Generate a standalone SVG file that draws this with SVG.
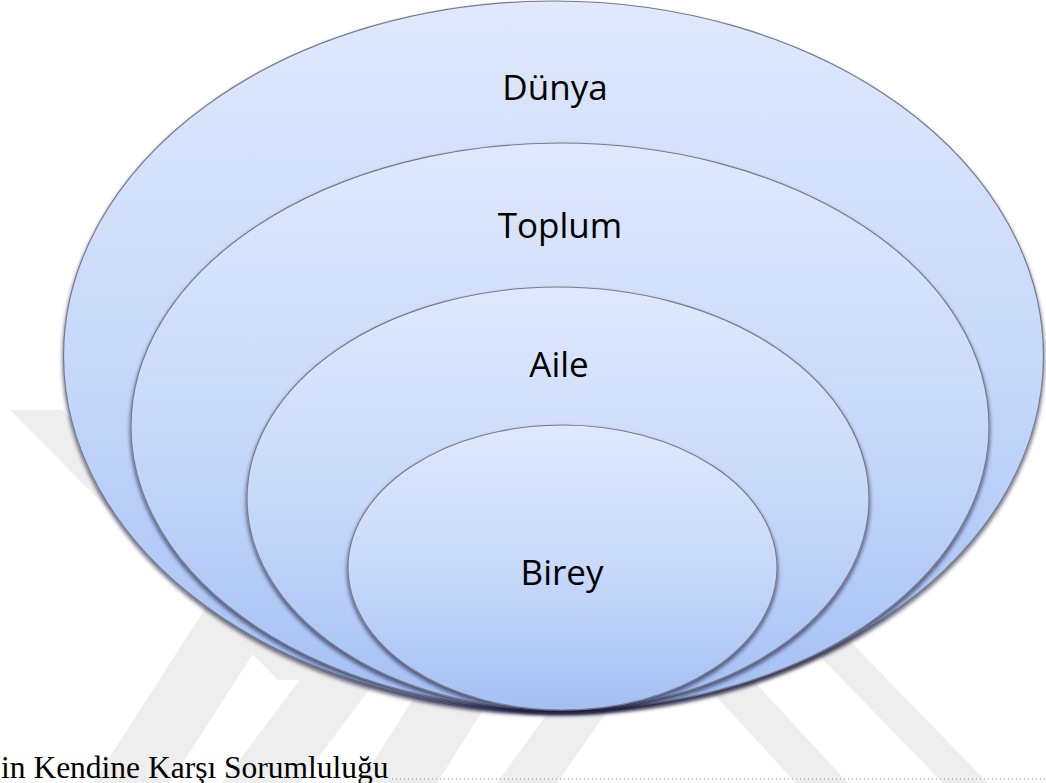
<svg xmlns="http://www.w3.org/2000/svg" width="1046" height="783" viewBox="0 0 1046 783">
<style>
.wm{fill:#eeeeee}
.ell{stroke:#767c8a;stroke-width:1.2;filter:url(#sh)}
.lbl{font-family:"Open Sans","Liberation Sans",sans-serif;font-size:35px;fill:#000;text-anchor:middle}
.cap{font-family:"Liberation Serif","Times New Roman",serif;font-size:31.5px;fill:#000}
</style>
<defs>
<linearGradient id="g" x1="0" y1="0" x2="0" y2="1">
<stop offset="0" stop-color="#dfe8fc"/>
<stop offset="0.5" stop-color="#c8d9fa"/>
<stop offset="1" stop-color="#a4bff4"/>
</linearGradient>
<filter id="sh" x="-5%" y="-5%" width="110%" height="115%">
<feDropShadow dx="0" dy="3" stdDeviation="2.2" flood-color="#0a1430" flood-opacity="0.7"/>
</filter>
</defs>
<rect width="1046" height="783" fill="#fff"/>
<g id="watermark">
<polygon class="wm" points="10,410 62,410 330,680 278,680"/>
<polygon class="wm" points="93,783 170,783 326,540 249,540"/>
<polygon class="wm" points="222,783 299,783 480,543 403,543"/>
<polygon class="wm" points="360,783 437,783 540,620 463,620"/>
<polygon class="wm" points="497,783 557,783 650,650 593,650"/>
<polygon class="wm" points="664,640 716,640 848,783 796,783"/>
<polygon class="wm" points="760,595 805,595 988,783 943,783"/>
</g>
<g id="dunya">
<ellipse class="ell" cx="553.5" cy="356" rx="490" ry="355" fill="url(#g)"/>
<text class="lbl" x="555" y="100">Dünya</text>
</g>
<g id="toplum">
<ellipse class="ell" cx="560" cy="426.5" rx="429" ry="283.5" fill="url(#g)"/>
<text class="lbl" x="560" y="238">Toplum</text>
</g>
<g id="aile">
<ellipse class="ell" cx="558" cy="498.5" rx="311" ry="211.5" fill="url(#g)"/>
<text class="lbl" x="559" y="377">Aile</text>
</g>
<g id="birey">
<ellipse class="ell" cx="562.5" cy="567.5" rx="214.5" ry="142.5" fill="url(#g)"/>
<text class="lbl" x="562" y="585">Birey</text>
</g>
<g id="caption">
<text class="cap" x="1" y="778">in Kendine Karşı Sorumluluğu</text>
<line x1="392" y1="779" x2="1046" y2="779" stroke="#8a8a8a" stroke-width="1" stroke-dasharray="1 3"/>
</g>
</svg>
